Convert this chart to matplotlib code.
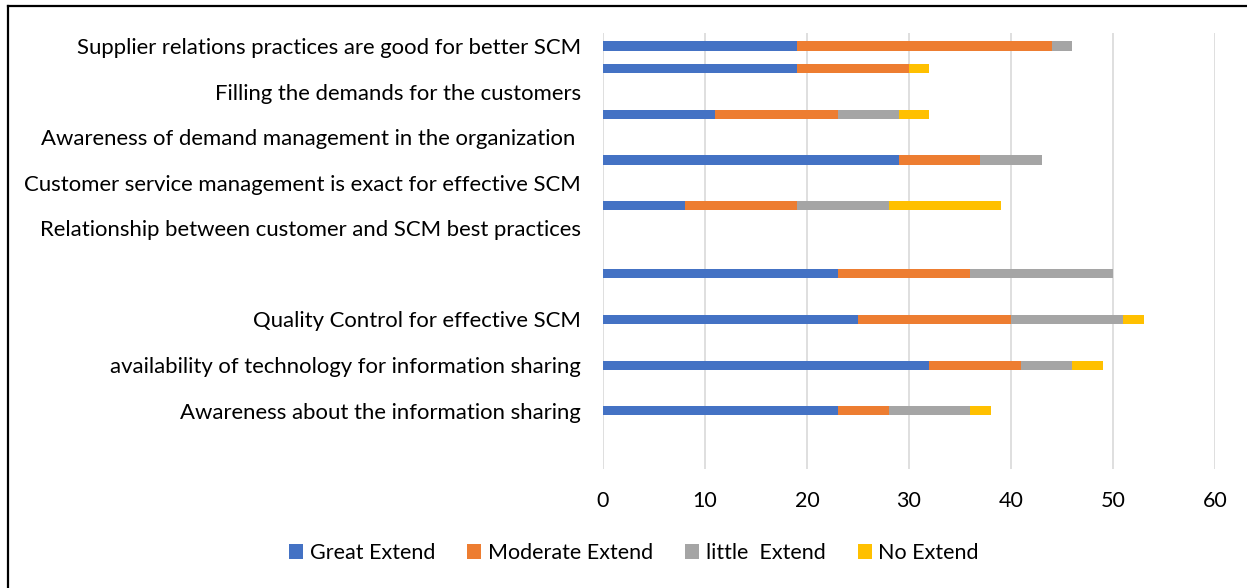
import matplotlib
matplotlib.use("Agg")
import matplotlib.pyplot as plt
from matplotlib.lines import Line2D

# Survey responses per statement (counts of respondents)
series_names = ["Great Extend", "Moderate Extend", "little  Extend", "No Extend"]
series_colors = ["#4472C4", "#ED7D31", "#A5A5A5", "#FFC000"]

great_extend = [19, 19, 11, 29, 8, 23, 25, 32, 23]
moderate_extend = [25, 11, 12, 8, 11, 13, 15, 9, 5]
little_extend = [2, 0, 6, 6, 9, 14, 11, 5, 8]
no_extend = [0, 2, 3, 0, 11, 0, 2, 3, 2]

# Row positions of the bars on the category axis (top = 0)
bar_rows = [0, 0.5, 1.5, 2.5, 3.5, 5, 6, 7, 8]

# Statement labels and their rows
label_rows = [0, 1, 2, 3, 4, 6, 7, 8]
labels = [
    "Supplier relations practices are good for better SCM",
    "Filling the demands for the customers",
    "Awareness of demand management in the organization ",
    "Customer service management is exact for effective SCM",
    "Relationship between customer and SCM best practices",
    "Quality Control for effective SCM",
    "availability of technology for information sharing",
    "Awareness about the information sharing",
]

x_ticks = [0, 10, 20, 30, 40, 50, 60]

W, H = 1247, 588
fig = plt.figure(figsize=(W / 100, H / 100), dpi=100)
plt.rcParams["font.family"] = ["Lato", "DejaVu Sans"]

ax_left, ax_right = 603 / W, 1215 / W
ax_top, ax_bottom = 1 - 33 / H, 1 - 469 / H
ax = fig.add_axes([ax_left, ax_bottom, ax_right - ax_left, ax_top - ax_bottom])

series = [great_extend, moderate_extend, little_extend, no_extend]
lefts = [0] * len(bar_rows)
for vals, name, col in zip(series, series_names, series_colors):
    ax.barh(bar_rows, vals, left=lefts, height=0.2, color=col, label=name,
            edgecolor="none", zorder=3)
    lefts = [a + b for a, b in zip(lefts, vals)]

ax.set_xlim(0, 60)
ax.set_ylim(9.28, -0.285)
ax.set_xticks(x_ticks)
ax.set_xticklabels([str(t) for t in x_ticks], fontsize=15.5)
ax.set_yticks(label_rows)
ax.set_yticklabels(labels, fontsize=15.9)
ax.tick_params(axis="both", length=0)
ax.tick_params(axis="x", pad=16)
ax.tick_params(axis="y", pad=16)
ax.grid(axis="x", color="#D9D9D9", linewidth=1.2, zorder=0)
for s in ax.spines.values():
    s.set_visible(False)

fig.legend(loc="center", bbox_to_anchor=(634 / W, 1 - 553 / H), ncol=4,
           frameon=False, fontsize=15.5, handlelength=0.65, handleheight=0.65,
           handletextpad=0.3, columnspacing=1.5)

# Outer frame: left and top edges
fig.add_artist(Line2D([8 / W, 8 / W], [0, 1 - 6 / H], transform=fig.transFigure,
                      color="black", linewidth=1.6))
fig.add_artist(Line2D([8 / W, 1], [1 - 6 / H, 1 - 6 / H], transform=fig.transFigure,
                      color="black", linewidth=1.6))

fig.savefig("out.png", dpi=100, facecolor="white")
